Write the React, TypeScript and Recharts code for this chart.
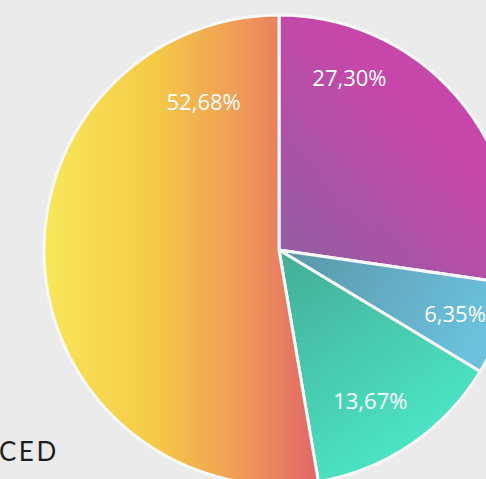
import { Pie, PieChart, Cell } from "recharts";

const names = ["A", "B", "C", "D"];
const values = [27.3, 6.35, 13.67, 52.68];
const labels = ["27,30%", "6,35%", "13,67%", "52,68%"];

// label placement tweaks (degrees added to midAngle, radius)
const labelShift = [27, 0, -3, -68];
const labelRadius = [187, 187, 176, 167];

const gradients = [
  { id: "g0", x1: 0, y1: 1, x2: 0.55, y2: 0.35, from: "#8c60a0", to: "#c647a9" },
  { id: "g1", x1: 0, y1: 0, x2: 1, y2: 0.3, from: "#5995a6", to: "#6cc2de" },
  { id: "g2", x1: 0.1, y1: 0, x2: 0.7, y2: 1, from: "#44af98", to: "#4deccb" },
];

const RAD = Math.PI / 180;

function renderLabel(props: any) {
  const { cx, cy, midAngle, index } = props;
  const a = (midAngle + labelShift[index]) * RAD;
  const r = labelRadius[index];
  const x = cx + r * Math.cos(-a);
  const y = cy + r * Math.sin(-a);
  return (
    <text
      x={x}
      y={y}
      fill="#ffffff"
      textAnchor="middle"
      dominantBaseline="central"
      fontFamily="'Open Sans', sans-serif"
      fontSize={22}
    >
      {labels[index]}
    </text>
  );
}

export default function App() {
  const data = names.map((n, i) => ({ name: n, value: values[i] }));
  return (
    <div style={{ position: "fixed", left: 0, top: 0, width: 486, height: 479, background: "#ebebeb" }}>
      <PieChart width={486} height={479} margin={{ top: 0, right: 0, bottom: 0, left: 0 }}>
        <defs>
          {gradients.map((g) => (
            <linearGradient key={g.id} id={g.id} x1={g.x1} y1={g.y1} x2={g.x2} y2={g.y2}>
              <stop offset="0%" stopColor={g.from} />
              <stop offset="100%" stopColor={g.to} />
            </linearGradient>
          ))}
          <linearGradient id="g3" x1={0} y1={0} x2={1} y2={0}>
            <stop offset="0%" stopColor="#f7e75b" />
            <stop offset="40%" stopColor="#f5ca47" />
            <stop offset="72%" stopColor="#ef9a58" />
            <stop offset="100%" stopColor="#e06568" />
          </linearGradient>
        </defs>
        <Pie
          data={data}
          dataKey="value"
          nameKey="name"
          cx={279}
          cy={250}
          outerRadius={235}
          startAngle={90}
          endAngle={-270}
          stroke="#f8f8f8"
          strokeWidth={3}
          label={renderLabel}
          labelLine={false}
          isAnimationActive={false}
        >
          {data.map((_, i) => (
            <Cell key={i} fill={`url(#g${i})`} />
          ))}
        </Pie>
        <text
          x={-1}
          y={461}
          fill="#1e1e1e"
          fontFamily="Lato, sans-serif"
          fontSize={26}
          letterSpacing={2.5}
        >
          CED
        </text>
      </PieChart>
    </div>
  );
}
